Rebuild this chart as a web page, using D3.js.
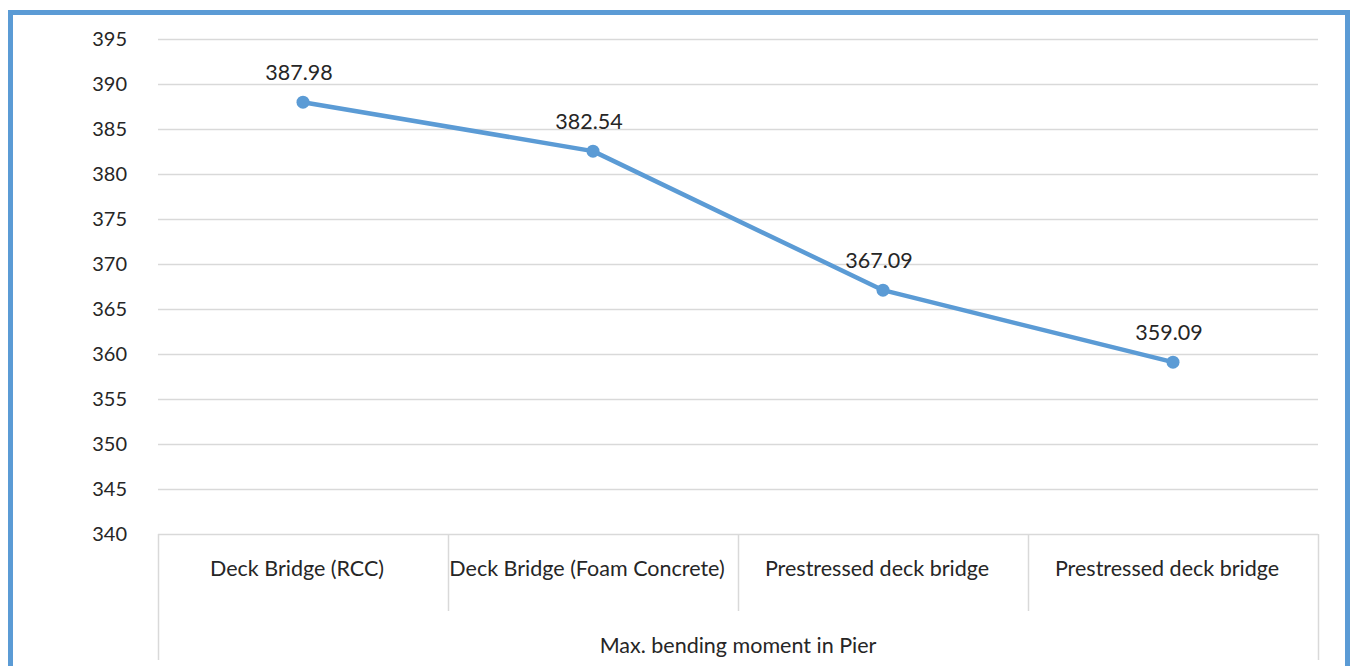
<!DOCTYPE html>
<html>
<head>
<meta charset="utf-8">
<script src="https://cdn.jsdelivr.net/npm/d3@7"></script>
<style>
  html, body { margin: 0; padding: 0; background: #fff; }
  svg { display: block; }
  text { font-family: Lato, "Open Sans", sans-serif; fill: #262626; }
</style>
</head>
<body>
<svg id="chart" width="1353" height="666"></svg>
<script>
// Data
const categories = ["Deck Bridge (RCC)", "Deck Bridge (Foam Concrete)", "Prestressed deck bridge", "Prestressed deck bridge"];
const groupLabel = "Max. bending moment in Pier";
const values = [387.98, 382.54, 367.09, 359.09];
const yTicks = [340, 345, 350, 355, 360, 365, 370, 375, 380, 385, 390, 395];

const svg = d3.select("#chart");
const plot = { left: 158, right: 1318, top: 39, bottom: 534 };

// Outer frame
svg.append("rect")
  .attr("x", 10.5).attr("y", 12.5)
  .attr("width", 1337).attr("height", 680)
  .attr("fill", "none")
  .attr("stroke", "#5b9bd5")
  .attr("stroke-width", 5);

const x = d3.scaleBand().domain(d3.range(categories.length)).range([plot.left, plot.right]).padding(0);
const y = d3.scaleLinear().domain([340, 395]).range([plot.bottom, plot.top]);

// Gridlines
svg.append("g")
  .selectAll("line")
  .data(yTicks)
  .join("line")
  .attr("x1", plot.left).attr("x2", plot.right)
  .attr("y1", d => Math.round(y(d)) + 0.5).attr("y2", d => Math.round(y(d)) + 0.5)
  .attr("stroke", "#d9d9d9").attr("stroke-width", 1.5);

// Y axis labels
const yAxis = d3.axisLeft(y).tickValues(yTicks).tickSize(0).tickPadding(0);
const gy = svg.append("g").attr("transform", `translate(127,0)`).call(yAxis);
gy.select(".domain").remove();
gy.selectAll("text").attr("font-size", 20).attr("fill", "#262626")
  .style("font-family", "Lato, 'Open Sans', sans-serif");

// Category dividers (inner level)
const bounds = d3.range(categories.length + 1).map(i => i < categories.length ? x(i) : plot.right);
svg.append("g").selectAll("line")
  .data(bounds)
  .join("line")
  .attr("x1", d => Math.round(d) + 0.5).attr("x2", d => Math.round(d) + 0.5)
  .attr("y1", plot.bottom)
  .attr("y2", (d, i) => (i === 0 || i === categories.length) ? 660 : 611)
  .attr("stroke", "#d9d9d9").attr("stroke-width", 1.5);

// Category labels
svg.append("g").selectAll("text")
  .data(categories)
  .join("text")
  .attr("x", (d, i) => x(i) + x.bandwidth() / 2 - 6)
  .attr("y", 576)
  .attr("text-anchor", "middle")
  .attr("font-size", 21.5)
  .text(d => d);

// Group label
svg.append("text")
  .attr("x", (plot.left + plot.right) / 2)
  .attr("y", 653)
  .attr("text-anchor", "middle")
  .attr("font-size", 21.5)
  .text(groupLabel);

// Line series
const cx = i => x(i) + x.bandwidth() / 2;
const line = d3.line().x((d, i) => cx(i)).y(d => y(d));
svg.append("path")
  .datum(values)
  .attr("d", line)
  .attr("fill", "none")
  .attr("stroke", "#5b9bd5")
  .attr("stroke-width", 4.5)
  .attr("stroke-linejoin", "round");

svg.append("g").selectAll("circle")
  .data(values)
  .join("circle")
  .attr("cx", (d, i) => cx(i))
  .attr("cy", d => y(d))
  .attr("r", 6.5)
  .attr("fill", "#5b9bd5");

// Value labels
svg.append("g").selectAll("text")
  .data(values)
  .join("text")
  .attr("x", (d, i) => cx(i) - 4)
  .attr("y", d => y(d) - 22)
  .attr("text-anchor", "middle")
  .attr("font-size", 21.5)
  .text(d => d.toFixed(2));
</script>
</body>
</html>
